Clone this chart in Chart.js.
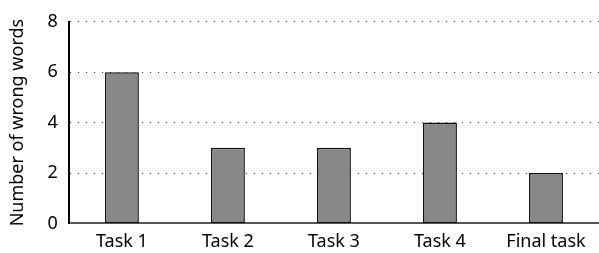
<!DOCTYPE html>
<html>
<head>
<meta charset="utf-8">
<script src="https://cdn.jsdelivr.net/npm/chart.js@4"></script>
<style>
  html, body { margin: 0; padding: 0; background: #fff; }
  #wrap { width: 599px; height: 253px; }
</style>
</head>
<body>
<div id="wrap"><canvas id="chart1"></canvas></div>
<script>
var categories = ['Task 1', 'Task 2', 'Task 3', 'Task 4', 'Final task'];
var wrongWords = [6, 3, 3, 4, 2];
var yTicks = [0, 2, 4, 6, 8];

Chart.defaults.font.family = "'Noto Sans', 'Open Sans', sans-serif";
Chart.defaults.color = '#000';

var ctx1 = document.getElementById('chart1').getContext('2d');
var chart1 = new Chart(ctx1, {
    type: 'bar',
    data: {
        labels: categories,
        datasets: [{
            data: wrongWords,
            backgroundColor: '#888888',
            borderColor: '#111111',
            borderWidth: 1.5,
            borderSkipped: false,
            categoryPercentage: 1,
            barPercentage: 0.32
        }]
    },
    options: {
        responsive: true,
        maintainAspectRatio: false,
        animation: false,
        layout: { padding: { top: 8, right: 0, bottom: 0, left: 7 } },
        plugins: {
            legend: { display: false },
            tooltip: { enabled: false }
        },
        scales: {
            x: {
                grid: { display: false },
                border: { color: '#555', width: 2 },
                ticks: { font: { size: 18 }, padding: 0 }
            },
            y: {
                min: 0,
                max: 8,
                afterBuildTicks: function (axis) {
                    axis.ticks = yTicks.map(function (v) { return { value: v }; });
                },
                grid: {
                    color: function (c) { return c.tick.value === 0 ? 'rgba(0,0,0,0)' : '#333'; },
                    lineWidth: 1,
                    drawTicks: false
                },
                border: { color: '#000', width: 2, dash: [1, 7] },
                ticks: { font: { size: 18 }, padding: 11 },
                title: {
                    display: true,
                    text: 'Number of wrong words',
                    font: { size: 18 },
                    padding: { top: 0, bottom: 8 }
                }
            }
        }
    }
});
</script>
</body>
</html>
